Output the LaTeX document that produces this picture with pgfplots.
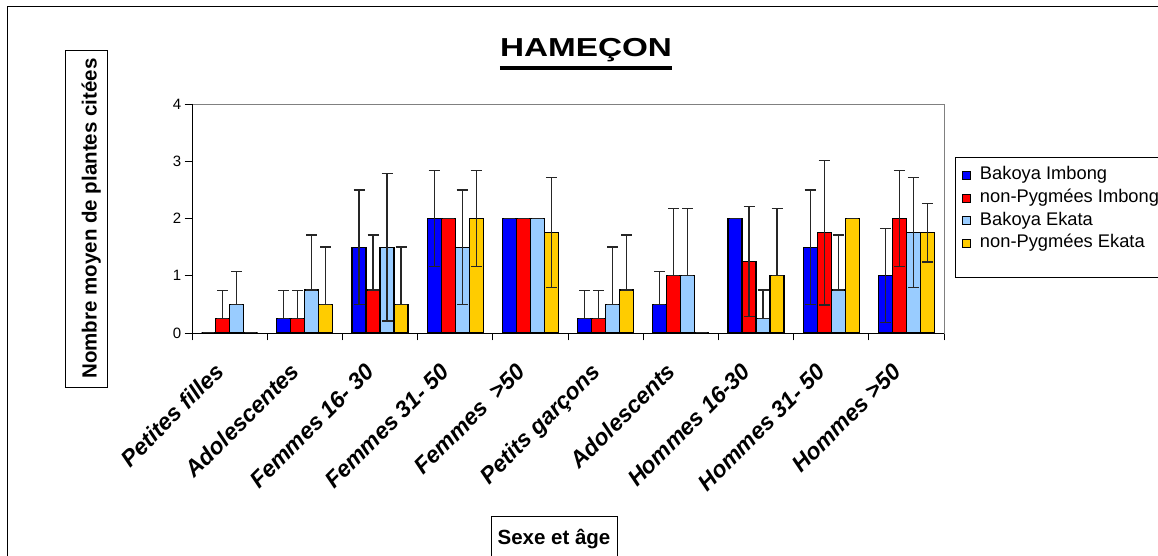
\documentclass[border=0pt]{standalone}
\usepackage{fontspec}
\setmainfont{Liberation Sans}
\newfontfamily\titlefont[FakeStretch=1.28]{Liberation Sans}
\usepackage{pgfplots}
\pgfplotsset{compat=1.18}
\definecolor{cBI}{RGB}{0,0,255}
\definecolor{cNI}{RGB}{255,0,0}
\definecolor{cBE}{RGB}{153,204,255}
\definecolor{cNE}{RGB}{255,204,0}
\definecolor{frame}{RGB}{128,128,128}

\begin{document}
\begin{tikzpicture}
\useasboundingbox (0pt,0pt) rectangle (1158pt,556pt);
% chart border
\draw[line width=1pt] (7pt,-20pt) -- (7pt,549pt) -- (1180pt,549pt);
% title
\node[font=\titlefont\bfseries\fontsize{26}{30}\selectfont, inner sep=0pt, anchor=base] (t) at (586pt,499pt) {HAMEÇON};
\draw[line width=3.5pt] ([yshift=-11pt]t.base west) -- ([yshift=-11pt]t.base east);
% y label
\draw[line width=0.8pt] (65pt,169pt) rectangle (107pt,506pt);
\node[font=\bfseries\fontsize{20.5}{24}\selectfont, rotate=90, anchor=base, inner sep=0pt] at (96.5pt,337.5pt) {Nombre moyen de plantes citées};
% x label
\draw[line width=0.8pt] (491pt,-20pt) rectangle (617pt,39.5pt);
\node[font=\bfseries\fontsize{20.5}{24}\selectfont, anchor=base, inner sep=0pt] at (554pt,11pt) {Sexe et âge};
% legend box
\draw[line width=0.8pt] (955pt,279pt) rectangle (1180pt,399pt);

\begin{axis}[
    at={(192pt,223pt)}, anchor=south west,
    scale only axis, width=752pt, height=229pt,
    xmin=-0.5, xmax=9.5, ymin=0, ymax=4,
    ybar=0pt, bar width=14pt,
    axis line style={frame, line width=0.8pt},
    xtick={-0.5,0.5,...,9.5}, xticklabels={},
    ytick={0,1,2,3,4},
    tick align=outside, tick pos=left,
    major tick length=7.5pt,
    tick style={black, line width=0.8pt},
    yticklabel style={font=\fontsize{15}{18}\selectfont, inner sep=0pt, xshift=-3pt},
    /pgf/number format/assume math mode=true,
    extra x ticks={0,1,...,9},
    extra x tick labels={Petites filles, Adolescentes, Femmes 16- 30, Femmes 31- 50, Femmes\ \ >50, Petits garçons, Adolescents, Hommes 16-30, Hommes 31- 50, Hommes >50},
    extra x tick style={major tick length=0pt, tick style={draw=none},
        tick label style={font=\bfseries\itshape\fontsize{23}{27}\selectfont, inner sep=0pt, anchor=base east, xshift=-4pt, yshift=-40pt, rotate=45}},
    legend image code/.code={\draw[#1, draw=black, line width=0.8pt] (0pt,-4pt) rectangle (8pt,4pt);},
    legend style={draw=none, fill=none, at={(1.0239,0.727)}, anchor=north west,
        inner sep=0pt, row sep=5.7pt, column sep=9pt,
        font=\fontsize{18.3}{21}\selectfont,
        nodes={inner sep=0pt, text height=13pt, text depth=4pt}},
    legend cell align=left,
    clip=false,
    every axis plot/.append style={
        error bars/y dir=both, error bars/y explicit,
        error bars/error bar style={line width=1.3pt, black!85},
        error bars/error mark options={line width=1.3pt, black!85, mark size=5.5pt, rotate=90}},
]
\addplot[fill=cBI, draw=black, line width=1.2pt] coordinates {
    (0,0) += (0,0) -= (0,0)
    (1,0.25) += (0,0.49) -= (0,0)
    (2,1.5) += (0,1.0) -= (0,1.0)
    (3,2.0) += (0,0.84) -= (0,0.84)
    (4,2.0) += (0,0) -= (0,0)
    (5,0.25) += (0,0.49) -= (0,0)
    (6,0.5) += (0,0.57) -= (0,0)
    (7,2.0) += (0,0) -= (0,0)
    (8,1.5) += (0,1.0) -= (0,1.0)
    (9,1.0) += (0,0.82) -= (0,0.82)
};
\addplot[fill=cNI, draw=black, line width=1.2pt] coordinates {
    (0,0.25) += (0,0.49) -= (0,0)
    (1,0.25) += (0,0.49) -= (0,0)
    (2,0.75) += (0,0.96) -= (0,0)
    (3,2.0) += (0,0) -= (0,0)
    (4,2.0) += (0,0) -= (0,0)
    (5,0.25) += (0,0.49) -= (0,0)
    (6,1.0) += (0,1.17) -= (0,0)
    (7,1.25) += (0,0.96) -= (0,0.96)
    (8,1.75) += (0,1.26) -= (0,1.26)
    (9,2.0) += (0,0.84) -= (0,0.84)
};
\addplot[fill=cBE, draw=black, line width=1.2pt] coordinates {
    (0,0.5) += (0,0.57) -= (0,0)
    (1,0.75) += (0,0.96) -= (0,0)
    (2,1.5) += (0,1.29) -= (0,1.29)
    (3,1.5) += (0,1.0) -= (0,1.0)
    (4,2.0) += (0,0) -= (0,0)
    (5,0.5) += (0,1.0) -= (0,0)
    (6,1.0) += (0,1.17) -= (0,0)
    (7,0.25) += (0,0.5) -= (0,0)
    (8,0.75) += (0,0.96) -= (0,0)
    (9,1.75) += (0,0.96) -= (0,0.96)
};
\addplot[fill=cNE, draw=black, line width=1.2pt] coordinates {
    (0,0) += (0,0) -= (0,0)
    (1,0.5) += (0,1.0) -= (0,0)
    (2,0.5) += (0,1.0) -= (0,0)
    (3,2.0) += (0,0.84) -= (0,0.84)
    (4,1.75) += (0,0.96) -= (0,0.96)
    (5,0.75) += (0,0.96) -= (0,0)
    (6,0) += (0,0) -= (0,0)
    (7,1.0) += (0,1.17) -= (0,0)
    (8,2.0) += (0,0) -= (0,0)
    (9,1.75) += (0,0.51) -= (0,0.51)
};
\legend{Bakoya Imbong, non-Pygmées Imbong, Bakoya Ekata, non-Pygmées Ekata}
\draw[black, line width=0.9pt] (rel axis cs:0,1) -- (rel axis cs:0,0) -- (rel axis cs:1,0);
\end{axis}
\end{tikzpicture}
\end{document}
